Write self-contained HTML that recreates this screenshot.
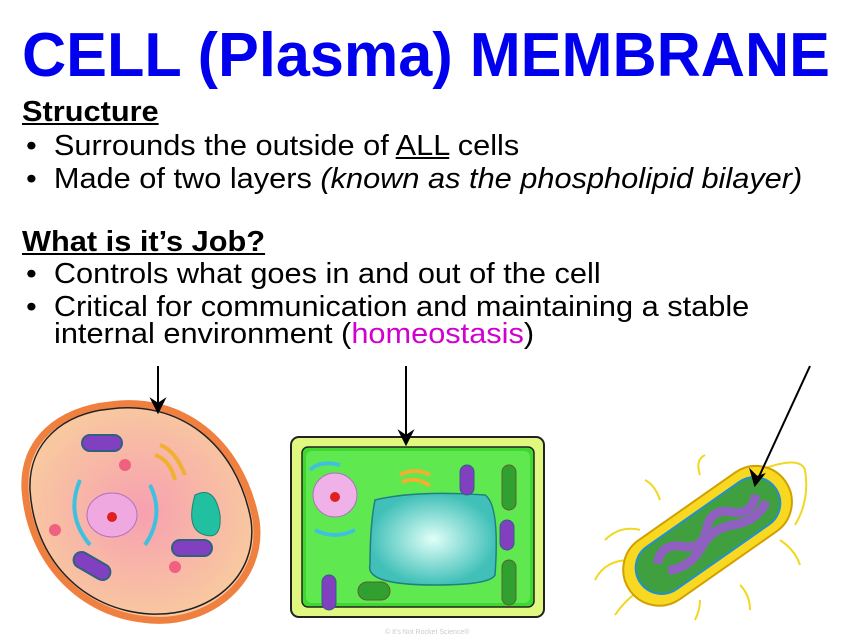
<!DOCTYPE html>
<html><head><meta charset="utf-8"><style>
body{margin:0;width:848px;height:644px;background:#fff;overflow:hidden;font-family:"Liberation Sans",sans-serif;position:relative}
.t{position:absolute;left:0;top:0}
.p{position:absolute;font-size:29px;color:#000;white-space:nowrap;line-height:30px;transform:scaleX(1.06);transform-origin:0 0}
</style></head><body>
<svg class="t" width="848" height="644">
<text x="22" y="76" font-family="Liberation Sans" font-weight="bold" font-size="62" fill="#0000ee" textLength="808" lengthAdjust="spacingAndGlyphs">CELL (Plasma) MEMBRANE</text>
</svg>
<div class="p" style="left:22px;top:97px;font-weight:bold;text-decoration:underline">Structure</div>
<div class="p" style="left:26px;top:131px">•&nbsp; Surrounds the outside of <u>ALL</u> cells</div>
<div class="p" style="left:26px;top:164px">•&nbsp; Made of two layers <i>(known as the phospholipid bilayer)</i></div>
<div class="p" style="left:22px;top:227px;font-weight:bold;text-decoration:underline">What is it’s Job?</div>
<div class="p" style="left:26px;top:259px">•&nbsp; Controls what goes in and out of the cell</div>
<div class="p" style="left:26px;top:292px">•&nbsp; Critical for communication and maintaining a stable</div>
<div class="p" style="left:54px;top:319px">internal environment (<span style="color:#d000d0">homeostasis</span>)</div>
<svg class="t" width="848" height="644">
<defs>
<radialGradient id="ag"><stop offset="0" stop-color="#f7a0b0"/><stop offset="1" stop-color="#f8c8a0"/></radialGradient>
<radialGradient id="vg"><stop offset="0" stop-color="#e0fff8"/><stop offset="1" stop-color="#40c0b8"/></radialGradient>
</defs>
<path d="M110,405 C180,395 240,440 256,520 C265,580 210,625 150,620 C80,615 30,560 25,490 C22,440 60,410 110,405Z" fill="url(#ag)" stroke="#f08040" stroke-width="7"/>
<path d="M110,409 C178,400 236,442 251,520 C259,578 208,617 150,614 C82,610 34,558 30,490 C28,442 64,413 110,409Z" fill="none" stroke="#222" stroke-width="1.5"/>
<ellipse cx="112" cy="515" rx="25" ry="22" fill="#f0a8e0" stroke="#b070c0"/>
<circle cx="112" cy="517" r="5" fill="#e02020"/>
<path d="M80,480 q-15,35 10,65 M150,485 q15,30 -5,60" stroke="#40c0e0" stroke-width="4" fill="none"/>
<rect x="82" y="435" width="40" height="16" rx="8" fill="#8040c0" stroke="#306080" stroke-width="2"/>
<rect x="172" y="540" width="40" height="16" rx="8" fill="#8040c0" stroke="#306080" stroke-width="2"/>
<rect x="72" y="558" width="40" height="16" rx="8" fill="#8040c0" stroke="#306080" stroke-width="2" transform="rotate(30 92 566)"/>
<path d="M195,495 q20,-10 25,20 q2,25 -15,20 q-20,-5 -10,-40Z" fill="#20c0a0" stroke="#208070"/>
<path d="M160,445 q15,5 25,30 M155,455 q15,5 20,25" stroke="#f0b030" stroke-width="4" fill="none"/>
<circle cx="125" cy="465" r="6" fill="#f06080"/><circle cx="55" cy="530" r="6" fill="#f06080"/><circle cx="175" cy="567" r="6" fill="#f06080"/>
<rect x="291" y="437" width="253" height="180" rx="8" fill="#e0f880" stroke="#222" stroke-width="2"/>
<rect x="302" y="447" width="232" height="160" rx="6" fill="#40d830" stroke="#222" stroke-width="1.5"/>
<rect x="306" y="451" width="224" height="152" rx="6" fill="#60e850"/>
<path d="M375,500 q40,-10 110,-5 q15,10 10,80 q-5,10 -60,10 q-70,0 -65,-20 q0,-40 5,-65Z" fill="url(#vg)" stroke="#208080" stroke-width="1.5"/>
<circle cx="335" cy="495" r="22" fill="#f0b0e8" stroke="#b070c0"/>
<circle cx="335" cy="497" r="5" fill="#e02020"/>
<path d="M310,470 q10,-10 30,-5 M315,530 q20,10 40,0" stroke="#40c0e0" stroke-width="4" fill="none"/>
<rect x="502" y="465" width="14" height="45" rx="7" fill="#30a030" stroke="#606030"/>
<rect x="502" y="560" width="14" height="45" rx="7" fill="#30a030" stroke="#606030"/>
<rect x="460" y="465" width="14" height="30" rx="7" fill="#8040c0" stroke="#306080"/>
<rect x="500" y="520" width="14" height="30" rx="7" fill="#8040c0" stroke="#306080"/>
<rect x="322" y="575" width="14" height="35" rx="7" fill="#8040c0" stroke="#306080"/>
<rect x="358" y="582" width="32" height="18" rx="9" fill="#30a030" stroke="#606030"/>
<path d="M400,475 q15,-8 30,0 M402,482 q15,-6 28,4" stroke="#f0b030" stroke-width="4" fill="none"/>
<g stroke="#f0d820" stroke-width="2" fill="none">
<path d="M640,530 q-20,-5 -35,10 M630,560 q-25,0 -35,20 M640,590 q-15,10 -25,25 M700,600 q0,10 -5,20 M660,500 q-5,-15 -15,-20 M700,475 q-5,-15 5,-20 M760,470 q40,-15 45,0 q5,30 -10,55 M780,540 q15,10 20,25 M740,585 q10,10 10,25"/>
</g>
<g transform="rotate(-35 707 535)">
<rect x="612" y="500" width="190" height="72" rx="36" fill="#f8d820" stroke="#d0a000" stroke-width="2"/>
<rect x="625" y="510" width="165" height="52" rx="26" fill="#40a040" stroke="#2090d0" stroke-width="2"/>
<path d="M650,530 q15,-15 30,0 q15,15 30,0 q15,-15 30,0 q15,15 30,0 M655,542 q20,10 40,0 q20,-10 40,0 q20,10 40,0" stroke="#9060c0" stroke-width="9" fill="none"/>
</g>
<g stroke="#000" stroke-width="2" fill="#000">
<line x1="158" y1="366" x2="158" y2="408"/><path d="M152,400 L158,412 L164,400 L158,404Z"/>
<line x1="406" y1="366" x2="406" y2="440"/><path d="M400,432 L406,444 L412,432 L406,436Z"/>
<line x1="810" y1="366" x2="757" y2="481"/><path d="M751,471 L755,485 L763,475 L757,477Z"/>
</g>
<text x="385" y="634" font-size="7" fill="#ccc" font-family="Liberation Sans">© It's Not Rocket Science®</text>
</svg>
</body></html>
